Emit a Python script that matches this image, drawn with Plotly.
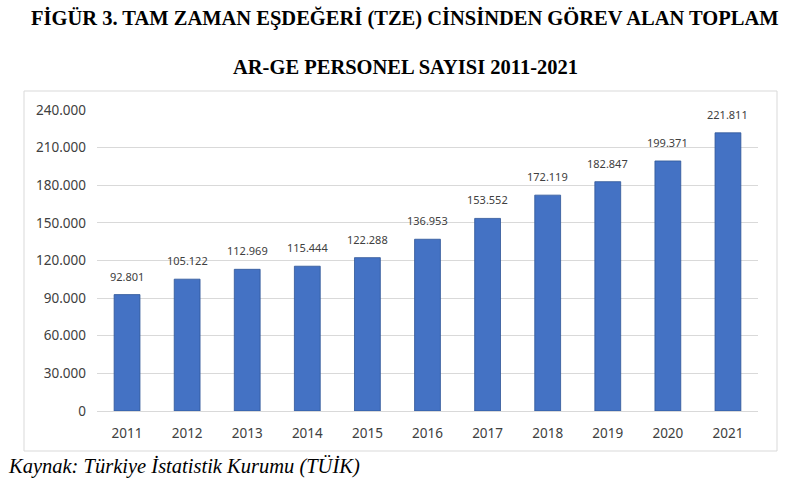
import plotly.graph_objects as go

years = ["2011", "2012", "2013", "2014", "2015", "2016", "2017", "2018", "2019", "2020", "2021"]
values = [92801, 105122, 112969, 115444, 122288, 136953, 153552, 172119, 182847, 199371, 221811]
y_ticks = [0, 30000, 60000, 90000, 120000, 150000, 180000, 210000, 240000]

title_line1 = "FİGÜR 3. TAM ZAMAN EŞDEĞERİ (TZE) CİNSİNDEN GÖREV ALAN TOPLAM"
title_line2 = "AR-GE PERSONEL SAYISI 2011-2021"
source_text = "Kaynak: Türkiye İstatistik Kurumu (TÜİK)"

W, H = 800, 484
ML, MR, MT, MB = 97, 42, 110, 73
fig = go.Figure()
fig.add_trace(go.Bar(
    x=years, y=values,
    marker=dict(color="#4472C4", line=dict(color="#2F5597", width=0.8)),
    width=0.43,
))

# value labels (x given as category index)
for i, v in enumerate(values):
    fig.add_annotation(x=i, y=v, xref="x", yref="y", text=f"{v:,}".replace(",", "."),
                       showarrow=False, yanchor="bottom", yshift=9,
                       font=dict(family="Noto Sans, Open Sans, sans-serif", size=11, color="#404040"))

fig.update_layout(
    width=W, height=H,
    margin=dict(l=ML, r=MR, t=MT, b=MB),
    paper_bgcolor="white", plot_bgcolor="white",
    separators=",.",
    showlegend=False,
    xaxis=dict(
        type="category", range=[-0.5, 10.5],
        showline=True, linecolor="#d9d9d9", linewidth=1,
        ticks="", showgrid=False,
        tickfont=dict(family="Noto Sans, Open Sans, sans-serif", size=13.5, color="#404040"),
        ticklabelstandoff=10,
    ),
    yaxis=dict(
        range=[0, 240000], tickvals=y_ticks, tickformat=",d",
        showgrid=True, gridcolor="#d9d9d9", gridwidth=1,
        zeroline=False, showline=False, ticks="",
        tickfont=dict(family="Noto Sans, Open Sans, sans-serif", size=13.5, color="#404040"),
        ticklabelstandoff=10,
    ),
)

def py(ypix):
    return (H - MB - ypix) / (H - MT - MB)

def px(xpix):
    return (xpix - ML) / (W - ML - MR)

# chart border box
fig.add_shape(type="rect", xref="paper", yref="paper",
              x0=px(24), x1=px(777), y0=py(451), y1=py(91),
              line=dict(color="#d9d9d9", width=1), fillcolor="rgba(0,0,0,0)", layer="below")

fig.add_annotation(text="<b>" + title_line1 + "</b>", xref="paper", yref="paper",
                   x=px(405), y=py(18), xanchor="center", yanchor="middle", showarrow=False,
                   font=dict(family="Liberation Serif, Times New Roman, serif", size=20.5, color="black"))
fig.add_annotation(text="<b>" + title_line2 + "</b>", xref="paper", yref="paper",
                   x=px(405), y=py(67), xanchor="center", yanchor="middle", showarrow=False,
                   font=dict(family="Liberation Serif, Times New Roman, serif", size=20.5, color="black"))
fig.add_annotation(text="<i>" + source_text + "</i>", xref="paper", yref="paper",
                   x=px(6), y=py(466), xanchor="left", yanchor="middle", showarrow=False,
                   font=dict(family="Liberation Serif, Times New Roman, serif", size=20.5, color="black"))

fig.write_html("out.html")
